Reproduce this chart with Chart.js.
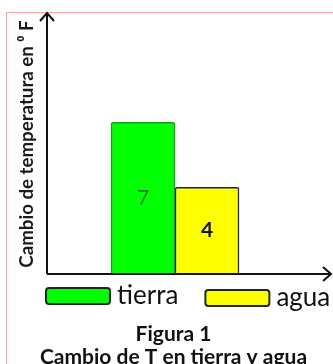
<!DOCTYPE html>
<html>
<head>
<meta charset="utf-8">
<script src="https://cdn.jsdelivr.net/npm/chart.js@4.4.0/dist/chart.umd.min.js"></script>
<style>
  html, body { margin: 0; padding: 0; background: #fff; overflow: hidden; }
  #wrap { position: relative; width: 333px; height: 364px; overflow: hidden; }
  #frame { position: absolute; left: 6px; top: 12px; width: 350px; height: 370px;
           border: 1px solid #f5a3a3; box-sizing: border-box; pointer-events: none; }
  canvas { position: absolute; left: 0; top: 0; }
</style>
</head>
<body>
<div id="wrap">
  <div id="frame"></div>
  <!-- a bit wider than the window: the caption is centred slightly right in the original -->
  <canvas id="chart" width="347" height="364"></canvas>
</div>
<script>
const categories = ['tierra', 'agua'];
const values = [7, 4];
const barColors = ['#00ff00', '#ffff00'];
const barEdges = ['#1c9c1c', '#1a1a70'];
const valueColors = ['#2e7d2e', '#111111'];
const valueWeights = ['normal', 'bold'];
const yTitle = 'Cambio de temperatura en \u2070 F';
const figTitle = 'Figura 1';
const caption = 'Cambio de T en tierra y agua';
const yMax = 12;

// empty slot on each side of the two bars
const slots = ['', ...categories, ''];

Chart.defaults.font.family = 'Lato';

// arrows instead of plain axis lines
const arrowAxes = {
  id: 'arrowAxes',
  afterDraw(chart) {
    const { ctx, chartArea: a } = chart;
    const tipX = a.right + 28;
    const tipY = a.top - 1;
    ctx.save();
    ctx.strokeStyle = '#111';
    ctx.lineWidth = 2;
    ctx.beginPath();
    ctx.moveTo(a.left, a.bottom);
    ctx.lineTo(a.left, tipY);
    ctx.moveTo(a.left - 7, tipY + 8);
    ctx.lineTo(a.left, tipY);
    ctx.lineTo(a.left + 7, tipY + 8);
    ctx.moveTo(a.left, a.bottom);
    ctx.lineTo(tipX, a.bottom);
    ctx.moveTo(tipX - 8, a.bottom - 7);
    ctx.lineTo(tipX, a.bottom);
    ctx.lineTo(tipX - 8, a.bottom + 7);
    ctx.stroke();
    ctx.restore();
  }
};

// value written in the middle of each bar
const barValues = {
  id: 'barValues',
  afterDatasetsDraw(chart) {
    const { ctx } = chart;
    ctx.save();
    ctx.textAlign = 'center';
    ctx.textBaseline = 'middle';
    chart.data.datasets.forEach((ds, i) => {
      chart.getDatasetMeta(i).data.forEach((bar, j) => {
        const v = ds.data[j];
        if (v == null) return;
        ctx.font = valueWeights[i] + ' 21px Lato';
        ctx.fillStyle = valueColors[i];
        ctx.fillText(String(v), bar.x, (bar.y + bar.base) / 2);
      });
    });
    ctx.restore();
  }
};

// legend row under the x axis: box then name
const legendRow = {
  id: 'legendRow',
  afterDraw(chart) {
    const { ctx, chartArea: a } = chart;
    const boxW = 64, boxH = 16;
    let x = a.left - 1;
    ctx.save();
    ctx.font = '26px Lato';
    ctx.textBaseline = 'middle';
    chart.data.datasets.forEach((ds, i) => {
      const y = a.bottom + 22 + i * 2;
      ctx.beginPath();
      ctx.roundRect(x, y - boxH / 2, boxW, boxH, 3);
      ctx.fillStyle = ds.backgroundColor;
      ctx.fill();
      ctx.lineWidth = 2;
      ctx.strokeStyle = '#1d2a1d';
      ctx.stroke();
      x += boxW + 7;
      ctx.fillStyle = '#111';
      ctx.fillText(ds.label, x, y);
      x += ctx.measureText(ds.label).width + 27;
    });
    ctx.restore();
  }
};

new Chart(document.getElementById('chart'), {
  type: 'bar',
  data: {
    labels: slots,
    datasets: categories.map((c, i) => ({
      label: c,
      data: slots.map(s => (s === c ? values[i] : null)),
      backgroundColor: barColors[i],
      borderColor: barEdges[i],
      borderWidth: 1.5,
      borderRadius: 2,
      grouped: false,
      barPercentage: 1,
      categoryPercentage: 1,
    })),
  },
  options: {
    responsive: false,
    animation: false,
    events: [],
    layout: { padding: { top: 14, left: 0, right: 0, bottom: 0 } },
    scales: {
      x: { display: false },
      y: {
        min: 0,
        max: yMax,
        afterFit(s) { s.width = 47; },
        ticks: { display: false },
        grid: { display: false },
        border: { display: false },
        title: {
          display: true,
          text: yTitle,
          color: '#1a1a1a',
          font: { size: 18.7, weight: 'bold' },
          padding: { top: 16, bottom: 0 },
        },
      },
      // keeps the plot to four 64px slots, the x arrow runs past it
      yRight: {
        position: 'right',
        afterFit(s) { s.width = 44; },
        ticks: { display: false },
        grid: { display: false },
        border: { display: false },
      },
    },
    plugins: {
      legend: { display: false },
      tooltip: { enabled: false },
      subtitle: {
        display: true,
        position: 'bottom',
        text: figTitle,
        color: '#111',
        font: { size: 21, weight: 'bold', lineHeight: '20px' },
        padding: { top: 50, bottom: 6 },
      },
      title: {
        display: true,
        position: 'bottom',
        text: caption,
        color: '#111',
        font: { size: 21, weight: 'bold', lineHeight: '14px' },
        padding: { top: 0, bottom: 0 },
      },
    },
  },
  plugins: [arrowAxes, barValues, legendRow],
});
</script>
</body>
</html>
